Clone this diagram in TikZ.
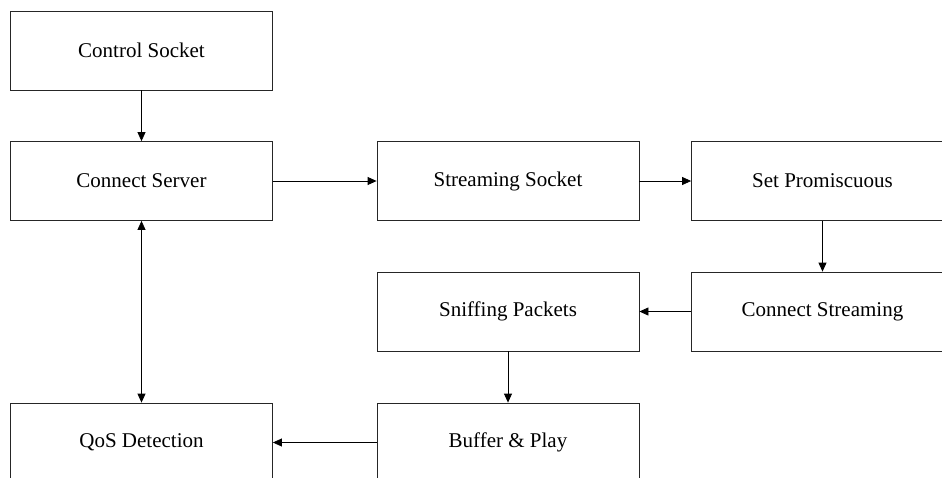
\documentclass[tikz,border=0pt]{standalone}
\usepackage{fontspec}
\setmainfont{Liberation Serif}
\usetikzlibrary{arrows.meta}
\begin{document}
\begin{tikzpicture}[x=1pt,y=-1pt,
  box/.style={draw=black!85, line width=0.8pt, minimum width=262pt, minimum height=79pt, inner sep=0pt,
    font=\fontsize{21}{24}\selectfont},
  conn/.style={line width=0.8pt, -{Triangle[width=8pt,length=9pt]}},
  bconn/.style={line width=0.8pt, {Triangle[width=8pt,length=9pt]}-{Triangle[width=8pt,length=9pt]}}]
\useasboundingbox (0,0) rectangle (942,477);
\begin{scope}
\clip (0,0) rectangle (942,477);
\node[box] (cs) at (141.5,50.5) {Control Socket};
\node[box] (srv) at (141.5,181) {Connect Server};
\node[box] (ss) at (508,181) {Streaming Socket};
\node[box] (sp) at (822.5,181) {Set Promiscuous};
\node[box] (cst) at (822.5,311.5) {Connect Streaming};
\node[box] (sn) at (508,311.5) {Sniffing Packets};
\node[box] (qos) at (141.5,442.5) {QoS Detection};
\node[box] (bp) at (508,442.5) {Buffer \& Play};
\draw[conn] (cs) -- (srv);
\draw[conn] (srv) -- (ss);
\draw[conn] (ss) -- (sp);
\draw[conn] (sp) -- (cst);
\draw[conn] (cst) -- (sn);
\draw[conn] (sn) -- (bp);
\draw[conn] (bp) -- (qos);
\draw[bconn] (srv) -- (qos);
\end{scope}
\end{tikzpicture}
\end{document}
